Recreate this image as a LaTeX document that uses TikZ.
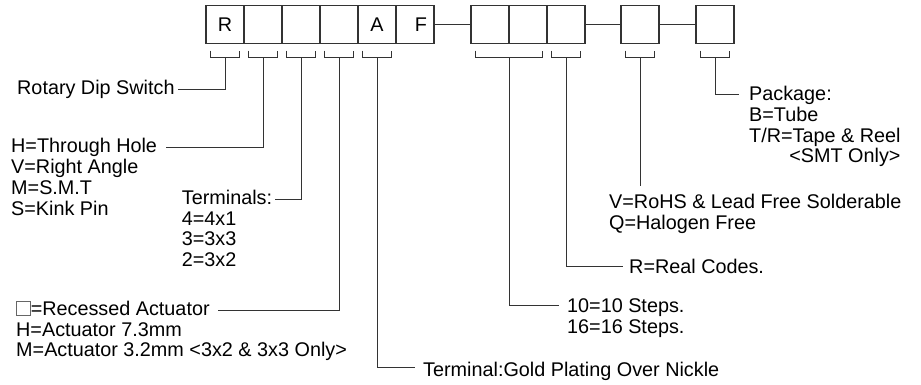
\documentclass[tikz,border=0pt]{standalone}
\usepackage{fontspec}
\setmainfont{Liberation Sans}
\usetikzlibrary{calc}
\newcommand{\blankmark}{{\color{black!60}\setlength\fboxsep{0pt}\setlength\fboxrule{0.8pt}\fbox{\rule{0pt}{13pt}\hspace{13pt}}}}
\begin{document}
\begin{tikzpicture}[
    x=1pt,y=-1pt,
    cell/.style={draw=black!80,line width=1.1pt,minimum size=38pt,inner sep=0pt,
                 font=\fontsize{19.8}{20.8}\selectfont},
    txt/.style={anchor=base west,inner sep=0pt,align=left,
                font=\fontsize{19.8}{20.8}\selectfont},
    lead/.style={draw=black!80,line width=0.9pt}
  ]
    \useasboundingbox (0,0) rectangle (921,385);

    % code boxes
    \node[cell] (b1) at (225,24.5) {R};
    \node[cell] (b2) at (263,24.5) {};
    \node[cell] (b3) at (301,24.5) {};
    \node[cell] (b4) at (339,24.5) {};
    \node[cell] (b5) at (377,24.5) {A};
    \node[cell] (b6) at (415,24.5) {\hspace*{12pt}F};
    \node[cell] (b7) at (490,24.5) {};
    \node[cell] (b8) at (528,24.5) {};
    \node[cell] (b9) at (566,24.5) {};
    \node[cell] (b10) at (640,24.5) {};
    \node[cell] (b11) at (715,24.5) {};

    \draw[lead] (b6) -- (b7);
    \draw[lead] (b9) -- (b10);
    \draw[lead] (b10) -- (b11);

    % brackets under the boxes
    \foreach \b in {b1,b2,b3,b4,b5,b9,b10,b11}{
      \draw[lead] ([xshift=5pt,yshift=-6.5pt]\b.south west) -- ++(0,7)
        -| ([xshift=-5pt,yshift=-6.5pt]\b.south east);
      \coordinate (k\b) at ([yshift=-13pt]\b.south);
    }
    \draw[lead] ([xshift=5pt,yshift=-6.5pt]b7.south west) -- ++(0,7)
      -| ([xshift=-5pt,yshift=-6.5pt]b8.south east);
    \coordinate (kb78) at ([yshift=-13pt]b7.south east);

    % descriptions (multi-line nodes sit on their last line)
    \node[txt] (rotary) at (17,94.5) {Rotary Dip Switch};
    \node[txt] (hole) at (11,215)
      {H=Through Hole\\V=Right Angle\\M=S.M.T\\S=Kink Pin};
    \node[txt] (term) at (181.7,266.7) {Terminals:\\4=4x1\\3=3x3\\2=3x2};
    \node[txt] (act) at (16,315) {\blankmark=Recessed Actuator};
    \node[txt] (actsize) at (16,356.8)
      {H=Actuator 7.3mm\\M=Actuator 3.2mm <3x2 \& 3x3 Only>};
    \node[txt] (gold) at (423,376) {Terminal:Gold Plating Over Nickle};
    \node[txt] (steps) at (567,333.5) {10=10 Steps.\\16=16 Steps.};
    \node[txt] (real) at (629,273.3) {R=Real Codes.};
    \node[txt] (rohs) at (609,229.5)
      {V=RoHS \& Lead Free Solderable\\Q=Halogen Free};
    \node[txt] (pkg) at (749,163)
      {Package:\\B=Tube\\T/R=Tape \& Reel\\
       \phantom{T/R=Tape \& Reel}\llap{<SMT Only>}};

    % leaders
    \draw[lead] (kb1) |- ([xshift=3pt,yshift=5pt]rotary.base east);
    \draw[lead] (kb2) |- ([xshift=9pt,yshift=67.8pt]hole.base east);
    \draw[lead] (kb3) |- ([xshift=3pt,yshift=67.7pt]term.base east);
    \draw[lead] (kb4) |- ([xshift=8pt,yshift=5pt]act.base east);
    \draw[lead] (kb5) |- ([xshift=-8pt,yshift=9pt]gold.base west);
    \draw[lead] (kb78) |- ([xshift=-8pt,yshift=28pt]steps.base west);
    \draw[lead] (kb9) |- ([xshift=-6pt,yshift=7pt]real.base west);
    \draw[lead] (kb10) -- ($(kb10 |- rohs.north)+(0,-8)$);
    \draw[lead] (kb11) |- ([xshift=-10pt,yshift=69pt]pkg.base west);
  \end{tikzpicture}
\end{document}
